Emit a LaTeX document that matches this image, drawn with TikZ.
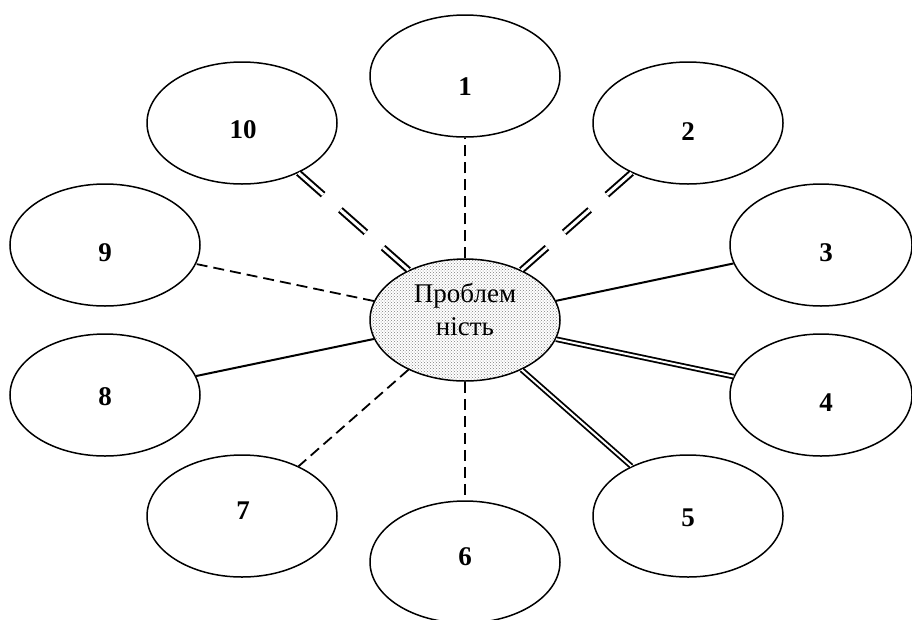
\documentclass[tikz,border=0pt]{standalone}
\usepackage{fontspec}
\setmainfont{Liberation Serif}
\usetikzlibrary{shapes.geometric,patterns}
\begin{document}
\begin{tikzpicture}[x=1pt,y=-1pt,
  bubble/.style={ellipse, draw, line width=1.5pt, minimum width=190pt,
    minimum height=122pt, inner sep=0pt},
  hub/.style={bubble, preaction={fill=white}, pattern=crosshatch dots,
    pattern color=black!50},
  num/.style={font=\fontsize{27}{30}\selectfont\bfseries, inner sep=0pt},
  hubtext/.style={font=\fontsize{27}{33}\selectfont, align=center, inner sep=0pt},
  dashline/.style={line width=1.8pt, dash pattern=on 11pt off 6pt},
  solidline/.style={line width=2pt},
  twinline/.style={double, line width=1.8pt, double distance=2pt},
  twindash/.style={double, line width=2pt, double distance=3pt,
    dash pattern=on 34pt off 23pt}]
\useasboundingbox (0,0) rectangle (912,619);

% central idea
\node[hub] (c) at (465,320) {};
\node[hubtext] (ct) at (465,309.5) {Проблем\\ність};

% surrounding bubbles
\node[bubble] (e1)  at (465,76)  {};
\node[bubble] (e2)  at (688,123) {};
\node[bubble, minimum width=182pt] (e3) at (821,245) {};
\node[bubble, minimum width=182pt] (e4) at (821,395) {};
\node[bubble] (e5)  at (688,516) {};
\node[bubble] (e6)  at (465,562) {};
\node[bubble] (e7)  at (242,516) {};
\node[bubble] (e8)  at (105,395) {};
\node[bubble] (e9)  at (105,245) {};
\node[bubble] (e10) at (242,123) {};

% numbers
\node[num] (n1)  at (465,87)  {1};
\node[num] (n2)  at (688,132) {2};
\node[num] (n3)  at (826,253) {3};
\node[num] (n4)  at (826,403) {4};
\node[num] (n5)  at (688,518) {5};
\node[num] (n6)  at (465,557) {6};
\node[num] (n7)  at (243,511) {7};
\node[num] (n8)  at (105,397) {8};
\node[num] (n9)  at (105,253) {9};
\node[num] (n10) at (243,130) {10};

% links
\draw[dashline]  (c) -- (e1);
\draw[twindash]  (c) -- (e2);
\draw[solidline] (c) -- (e3);
\draw[twinline]  (c) -- (e4);
\draw[twinline]  (c) -- (e5);
\draw[dashline]  (c) -- (e6);
\draw[dashline]  (c) -- (e7);
\draw[solidline] (c) -- (e8);
\draw[dashline]  (c) -- (e9);
\draw[twindash]  (c) -- (e10);
\end{tikzpicture}
\end{document}
